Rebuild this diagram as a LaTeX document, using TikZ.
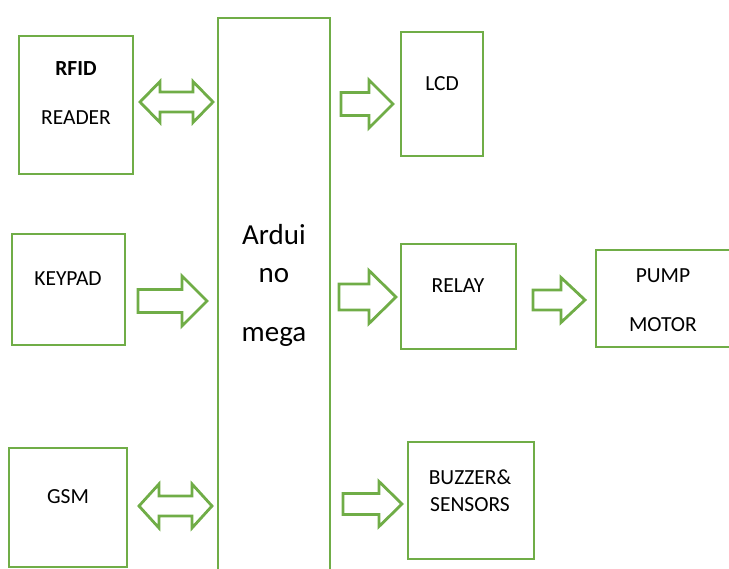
\documentclass[tikz,border=0pt]{standalone}
\usepackage{fontspec}
\setmainfont{Carlito}
\usetikzlibrary{calc}
\definecolor{ogreen}{HTML}{70AD47}
\newcommand\sarrow[5]{\draw[arr] let \p1=(#1),\p2=(#2) in (\x1,{\y1+#3pt}) -- ({\x2-#5pt},{\y1+#3pt}) -- ({\x2-#5pt},{\y1+#4pt}) -- (\x2,\y1) -- ({\x2-#5pt},{\y1-#4pt}) -- ({\x2-#5pt},{\y1-#3pt}) -- (\x1,{\y1-#3pt}) -- cycle;}
\newcommand\darrow[5]{\draw[arr] let \p1=(#1),\p2=(#2) in (\x1,\y1) -- ({\x1+#5pt},{\y1+#4pt}) -- ({\x1+#5pt},{\y1+#3pt}) -- ({\x2-#5pt},{\y1+#3pt}) -- ({\x2-#5pt},{\y1+#4pt}) -- (\x2,\y1) -- ({\x2-#5pt},{\y1-#4pt}) -- ({\x2-#5pt},{\y1-#3pt}) -- ({\x1+#5pt},{\y1-#3pt}) -- ({\x1+#5pt},{\y1-#4pt}) -- cycle;}
\begin{document}
\begin{tikzpicture}[x=1pt,y=-1pt,
  box/.style={draw=ogreen,line width=2.8pt,rectangle,anchor=north west,outer sep=0pt,inner sep=0pt},
  lbl/.style={anchor=base,inner sep=0pt,font=\fontsize{21.5}{26}\selectfont,text=black},
  big/.style={anchor=base,inner sep=0pt,font=\fontsize{29}{34}\selectfont,text=black},
  arr/.style={draw=ogreen,line width=2.8pt,fill=white,line join=miter}]
\useasboundingbox (0,0) rectangle (729,569);
\clip (0,0) rectangle (729,569);
% boxes
\node[box,minimum width=114pt,minimum height=138pt] (rfid) at (19,36) {};
\node[box,minimum width=113pt,minimum height=111pt] (keypad) at (12,234) {};
\node[box,minimum width=118pt,minimum height=119pt] (gsm) at (9,448) {};
\node[box,minimum width=112pt,minimum height=600pt] (ard) at (218,18) {};
\node[box,minimum width=82pt,minimum height=124pt] (lcd) at (401,32) {};
\node[box,minimum width=115pt,minimum height=105pt] (relay) at (401,244) {};
\node[box,minimum width=140pt,minimum height=97pt] (pump) at (596,250) {};
\node[box,minimum width=126pt,minimum height=117pt] (buzz) at (408,442) {};
% texts
\node[lbl] (rfidA) at (76,76) {\bfseries RFID};
\node[lbl] (rfidB) at (76,125) {READER};
\node[lbl] (keyT) at (68,285.5) {KEYPAD};
\node[lbl] (gsmT) at (68,503.5) {GSM};
\node[big] (ardA) at (274,245) {Ardui};
\node[big] (ardB) at (274,283) {no};
\node[big] (ardC) at (274,342) {mega};
\node[lbl] (lcdT) at (442,90.5) {LCD};
\node[lbl] (relT) at (458,293) {RELAY};
\node[lbl] (pumpA) at (663,282.5) {PUMP};
\node[lbl] (pumpB) at (663,331.5) {MOTOR};
\node[lbl] (buzA) at (470,484.5) {BUZZER\&};
\node[lbl] (buzB) at (470,511.5) {SENSORS};
% arrow end points
\coordinate (a1s) at (140,102); \coordinate (a1e) at (213,102);
\coordinate (a2s) at (138,301); \coordinate (a2e) at (207,301);
\coordinate (a3s) at (139,506); \coordinate (a3e) at (212,506);
\coordinate (a4s) at (341,104); \coordinate (a4e) at (393,104);
\coordinate (a5s) at (339,297); \coordinate (a5e) at (396,297);
\coordinate (a6s) at (533,300); \coordinate (a6e) at (585,300);
\coordinate (a7s) at (343,504); \coordinate (a7e) at (402,504);
% arrows
\darrow{a1s}{a1e}{10}{20.5}{20}
\sarrow{a2s}{a2e}{11.5}{25}{25}
\darrow{a3s}{a3e}{10}{22}{20}
\sarrow{a4s}{a4e}{11.5}{24}{24}
\sarrow{a5s}{a5e}{13}{26.5}{27}
\sarrow{a6s}{a6e}{10}{22.5}{24}
\sarrow{a7s}{a7e}{10.5}{22.5}{23}
\end{tikzpicture}
\end{document}
